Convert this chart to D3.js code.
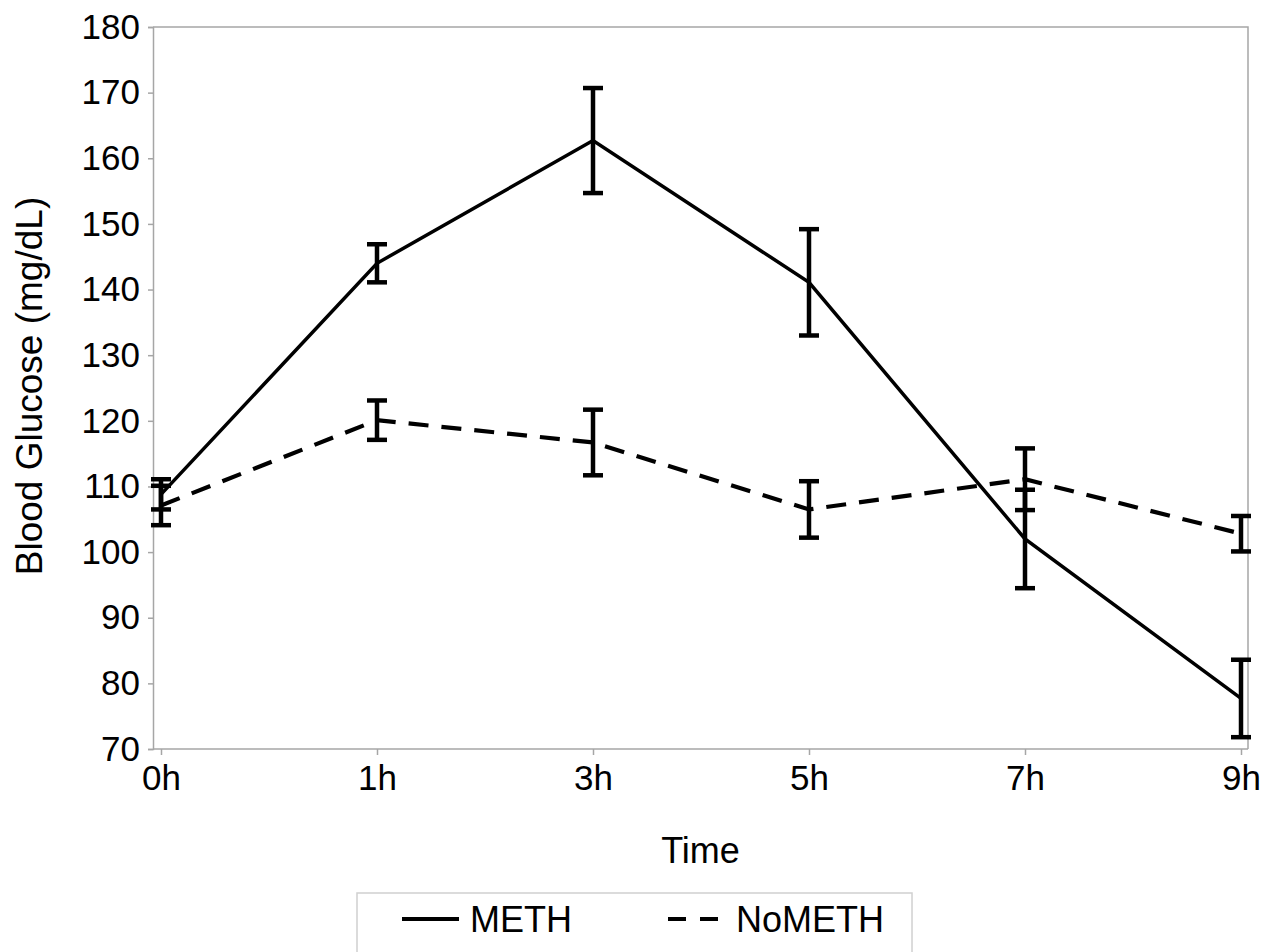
<!DOCTYPE html>
<html>
<head>
<meta charset="utf-8">
<script src="https://cdn.jsdelivr.net/npm/d3@7"></script>
<style>
  body { margin: 0; background: #fff; }
  svg { display: block; font-family: "Liberation Sans", Arial, sans-serif; }
</style>
</head>
<body>
<svg id="chart"></svg>
<script>
// Data
const times = ['0h', '1h', '3h', '5h', '7h', '9h'];
const methMean = [108.8, 144.0, 162.7, 141.1, 102.0, 77.7];
const methErr = [2.3, 2.9, 8.0, 8.1, 7.5, 5.9];
const noMethMean = [107.1, 120.1, 116.7, 106.5, 111.1, 102.8];
const noMethErr = [3.0, 3.0, 5.0, 4.3, 4.7, 2.7];
const yTicks = [70, 80, 90, 100, 110, 120, 130, 140, 150, 160, 170, 180];

const series = [
  { name: 'METH', mean: methMean, err: methErr, dash: null, width: 3.5 },
  { name: 'NoMETH', mean: noMethMean, err: noMethErr, dash: '20,13', width: 4.2 },
];

// Layout
const WIDTH = 1266;
const HEIGHT = 952;
const FRAME_LEFT = 153;
const FRAME_RIGHT = 1248;
const FRAME_TOP = 27;
const FRAME_BOTTOM = 749;
const AXIS_COLOR = '#a6a6a6';
const CAP_HALF = 10;

const svg = d3.select('#chart')
  .attr('width', WIDTH)
  .attr('height', HEIGHT);

const x = d3.scalePoint()
  .domain(times)
  .range([161, 1241]);

const y = d3.scaleLinear()
  .domain([70, 180])
  .range([FRAME_BOTTOM, FRAME_TOP]);

// frame (top + right edges)
svg.append('path')
  .attr('d', `M${FRAME_LEFT},${FRAME_TOP}H${FRAME_RIGHT}V${FRAME_BOTTOM}`)
  .attr('fill', 'none')
  .attr('stroke', AXIS_COLOR)
  .attr('stroke-width', 1.5);

// y axis
const yAxis = svg.append('g')
  .attr('transform', `translate(${FRAME_LEFT},0)`)
  .call(d3.axisLeft(y).tickValues(yTicks).tickSize(5).tickPadding(8).tickFormat(d3.format('d')));

// x axis
const xAxis = svg.append('g')
  .attr('transform', `translate(0,${FRAME_BOTTOM})`)
  .call(d3.axisBottom(x).tickSize(6).tickPadding(10));
xAxis.select('.domain').attr('d', `M${FRAME_LEFT},0H${FRAME_RIGHT}`);

[yAxis, xAxis].forEach(axis => {
  axis.select('.domain').attr('stroke', AXIS_COLOR).attr('stroke-width', 1.5);
  axis.selectAll('.tick line').attr('stroke', AXIS_COLOR).attr('stroke-width', 1.5);
  axis.selectAll('.tick text')
    .attr('fill', '#000')
    .style('font-size', '35px')
    .style('font-family', '"Liberation Sans", Arial, sans-serif');
});

// axis titles
svg.append('text')
  .attr('x', (FRAME_LEFT + FRAME_RIGHT) / 2)
  .attr('y', 863)
  .attr('text-anchor', 'middle')
  .style('font-size', '36px')
  .attr('fill', '#000')
  .text('Time');

svg.append('text')
  .attr('transform', `translate(42,386) rotate(-90)`)
  .attr('text-anchor', 'middle')
  .style('font-size', '37px')
  .attr('fill', '#000')
  .text('Blood Glucose (mg/dL)');

// lines
const line = d3.line()
  .x((d, i) => x(times[i]))
  .y(d => y(d));

series.forEach(s => {
  svg.append('path')
    .datum(s.mean)
    .attr('d', line)
    .attr('fill', 'none')
    .attr('stroke', '#000')
    .attr('stroke-width', s.width)
    .attr('stroke-dasharray', s.dash);
});

// error bars
series.forEach(s => {
  const bars = svg.append('g')
    .selectAll('g')
    .data(s.mean.map((m, i) => ({ t: times[i], lo: m - s.err[i], hi: m + s.err[i] })))
    .join('g')
    .attr('stroke', '#000')
    .attr('stroke-width', 4.5);

  bars.append('line')
    .attr('x1', d => x(d.t)).attr('x2', d => x(d.t))
    .attr('y1', d => y(d.lo)).attr('y2', d => y(d.hi));

  bars.append('line')
    .attr('x1', d => x(d.t) - CAP_HALF).attr('x2', d => x(d.t) + CAP_HALF)
    .attr('y1', d => y(d.hi)).attr('y2', d => y(d.hi));

  bars.append('line')
    .attr('x1', d => x(d.t) - CAP_HALF).attr('x2', d => x(d.t) + CAP_HALF)
    .attr('y1', d => y(d.lo)).attr('y2', d => y(d.lo));
});

// legend
const legend = svg.append('g');
legend.append('rect')
  .attr('x', 357).attr('y', 893)
  .attr('width', 555).attr('height', 80)
  .attr('fill', '#fff')
  .attr('stroke', '#d0d0d0')
  .attr('stroke-width', 1.5);

const legendItems = [
  { s: series[0], x1: 402, x2: 459, tx: 470 },
  { s: series[1], x1: 668, x2: 720, tx: 736 },
];
legendItems.forEach(item => {
  legend.append('line')
    .attr('x1', item.x1).attr('x2', item.x2)
    .attr('y1', 919).attr('y2', 919)
    .attr('stroke', '#000')
    .attr('stroke-width', 4)
    .attr('stroke-dasharray', item.s.dash ? '18,14' : null);
  legend.append('text')
    .attr('x', item.tx).attr('y', 932)
    .style('font-size', '36px')
    .attr('fill', '#000')
    .text(item.s.name);
});
</script>
</body>
</html>
